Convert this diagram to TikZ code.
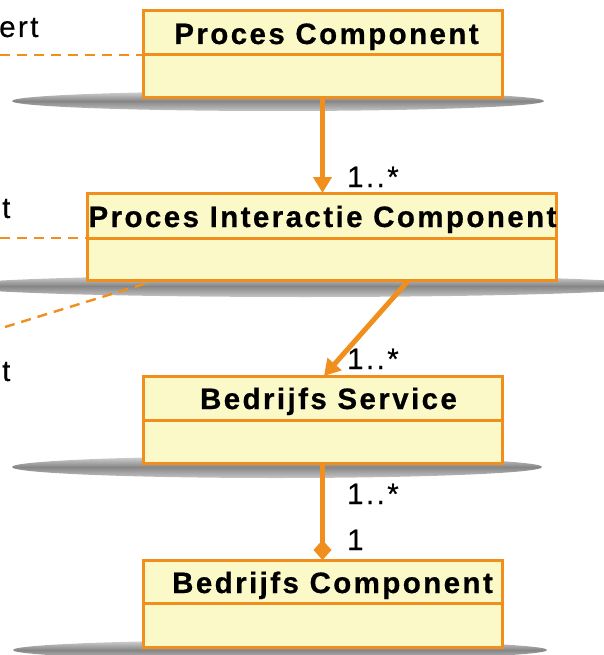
\documentclass[tikz,border=0pt]{standalone}
\usepackage{fontspec}
\setmainfont{Liberation Sans}[LetterSpace=8.2]
\usetikzlibrary{arrows.meta,calc}
\definecolor{uorange}{RGB}{240,142,30}
\definecolor{ufill}{RGB}{252,249,200}
\begin{document}
\begin{tikzpicture}[x=1pt,y=-1pt,
  shadowell/.style={top color=gray!30, bottom color=gray!45, middle color=gray!95},
  umlbox/.style={draw=uorange, fill=ufill, line width=3pt, anchor=north west, inner sep=0pt, outer sep=0pt, minimum height=87pt},
  divider/.style={draw=uorange, line width=3pt},
  title/.style={font=\fontsize{29.5}{34}\selectfont\bfseries\addfontfeature{FakeBold=0.6}, anchor=base, inner sep=0pt},
  mult/.style={font=\fontsize{29.5}{34}\selectfont\addfontfeature{FakeBold=0.4}, anchor=base west, inner sep=0pt},
  conn/.style={draw=uorange, line width=5pt},
  dashconn/.style={draw=uorange, line width=2.4pt, dash pattern=on 10pt off 7pt},
]
\useasboundingbox (0,0) rectangle (603,655);
% shadows
\shade[shadowell] (278,101) ellipse (266 and 10);
\shade[shadowell] (305,286) ellipse (350 and 11);
\shade[shadowell] (277,467) ellipse (265 and 11);
\shade[shadowell] (280,650) ellipse (267 and 10);
% boxes
\node[umlbox, minimum width=359pt] (b1) at (143,11) {};
\node[umlbox, minimum width=469pt] (b2) at (87,193) {};
\node[umlbox, minimum width=359pt] (b3) at (143,376) {};
\node[umlbox, minimum width=359pt] (b4) at (143,560) {};
\draw[divider] ($(b1.north west)+(0,44)$) -- ($(b1.north east)+(0,44)$);
\draw[divider] ($(b2.north west)+(0,45)$) -- ($(b2.north east)+(0,45)$);
\draw[divider] ($(b3.north west)+(0,44)$) -- ($(b3.north east)+(0,44)$);
\draw[divider] ($(b4.north west)+(0,43)$) -- ($(b4.north east)+(0,43)$);
\node[title] (t1) at ($(b1.north)+(4,33)$) {Proces Component};
\node[title] (t2) at ($(b2.north)+(1,34)$) {Proces Interactie Component};
\node[title] (t3) at ($(b3.north)+(6,33)$) {Bedrijfs Service};
\node[title] (t4) at ($(b4.north)+(10,33)$) {Bedrijfs Component};
% connectors
\draw[conn, -{Triangle[length=16pt,width=18pt]}] (b1.south) -- (b1.south |- b2.north);
\draw[conn, -{Triangle[length=16pt,width=18pt]}] ($(b2.south west)+(321,1)$) -- ($(b3.north west)+(181,0)$);
\draw[conn, -{Diamond[length=20pt,width=18pt]}] (b3.south) -- (b3.south |- b4.north);
\node[mult] (m1) at (347,187) {1..*};
\node[mult] (m2) at (347,369) {1..*};
\node[mult] (m3) at (347,504) {1..*};
\node[mult] (m4) at (347,550) {1};
% dashed links to the left
\coordinate (d1) at (0,55);
\coordinate (d2) at (0,238);
\coordinate (d3) at (5,327);
\draw[dashconn] (d1) -- (d1 -| b1.west);
\draw[dashconn] (d2) -- (d2 -| b2.west);
\draw[dashconn] (d3) -- ($(b2.south west)+(70,0)$);
\node[mult] (l1) at (-1,37) {ert};
\node[mult] (l2) at (2,218) {t};
\node[mult] (l3) at (2,381) {t};
\end{tikzpicture}
\end{document}
